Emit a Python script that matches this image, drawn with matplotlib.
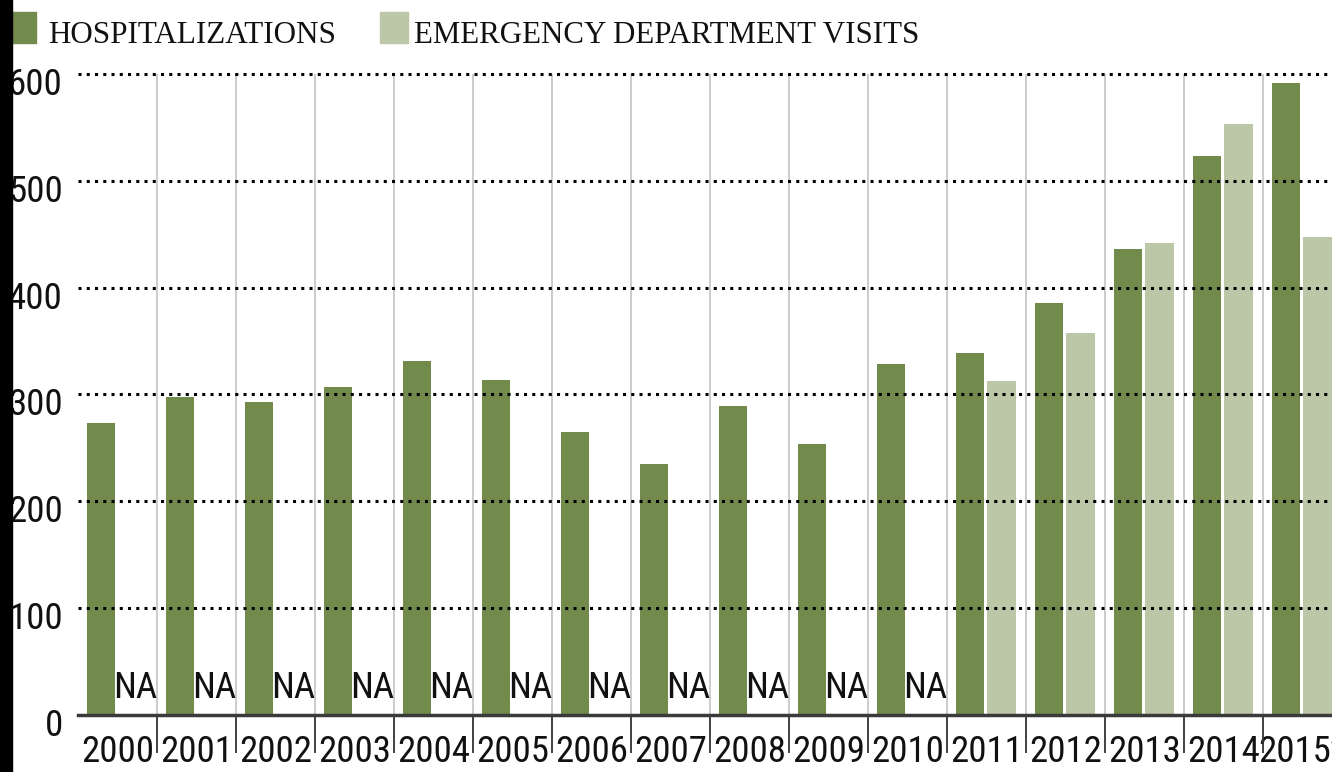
import matplotlib
matplotlib.use('Agg')
import matplotlib.pyplot as plt
from matplotlib import font_manager as fm
from matplotlib.patches import Rectangle
from matplotlib.transforms import ScaledTranslation
import numpy as np

# ---------------- data ----------------
years = ['2000', '2001', '2002', '2003', '2004', '2005', '2006', '2007',
         '2008', '2009', '2010', '2011', '2012', '2013', '2014', '2015*']
hospitalizations = [273, 298, 293, 307, 331, 314, 265, 235,
                    289, 254, 329, 339, 386, 436, 523, 592]
ed_visits = [None, None, None, None, None, None, None, None,
             None, None, None, 313, 358, 442, 553, 447]
y_ticks = [0, 100, 200, 300, 400, 500, 600]
series_names = ['HOSPITALIZATIONS', 'EMERGENCY DEPARTMENT VISITS']

# ---------------- fonts ----------------
available = {f.name for f in fm.fontManager.ttflist}
narrow_pref = ['Liberation Sans Narrow', 'Roboto Condensed', 'Noto Sans Condensed',
               'Open Sans Condensed', 'DejaVu Sans Condensed', 'Noto Sans ExtraCondensed',
               'Noto Sans SemiCondensed', 'Arial Narrow', 'Roboto', 'Inter', 'Lato']
SANS_MAIN = next((n for n in narrow_pref if n in available), 'DejaVu Sans')
SANS = [SANS_MAIN, 'DejaVu Sans']
serif_pref = ['Noto Serif Condensed', 'Noto Serif SemiCondensed',
              'DejaVu Serif Condensed', 'Liberation Serif', 'DejaVu Serif']
SERIF_MAIN = next((n for n in serif_pref if n in available), 'DejaVu Serif')
SERIF = [SERIF_MAIN, 'DejaVu Serif']

# ---------------- style ----------------
C_HOSP = '#728a4b'
C_ED = '#bcc7a8'
TXT = '#111111'

W, H = 1332, 772
fig = plt.figure(figsize=(W / 100, H / 100), dpi=100)
fig.patch.set_facecolor('white')

# fit sans font size so that a year label is about 73 px wide
probe = fig.text(0, 0, '2000', family=SANS, fontsize=20)
fig.canvas.draw()
r = fig.canvas.get_renderer()
pw = probe.get_window_extent(r).width
probe.remove()
FS = min(30, 20 * 73 / pw)

ax_left, ax_bottom_px, ax_top_px = 78, 715, 63.3
ax = fig.add_axes([ax_left / W, (H - ax_bottom_px) / H,
                   (W - ax_left) / W, (ax_bottom_px - ax_top_px) / H])
cat_px = 79.0
ax.set_xlim(-0.5, -0.5 + (W - ax_left) / cat_px)
ax.set_ylim(0, 610)
for s in ax.spines.values():
    s.set_visible(False)

x = np.arange(len(years))
ax.bar(x - 0.209, hospitalizations, width=0.355, color=C_HOSP,
       edgecolor='none', zorder=2)
for i, v in enumerate(ed_visits):
    if v is None:
        ax.text(i + 0.23, 16, 'NA', ha='center', va='baseline',
                fontsize=FS, family=SANS, color=TXT, zorder=3)
    else:
        ax.bar(i + 0.19, v, width=0.37, color=C_ED, edgecolor='none', zorder=2)

# grid lines
for v in y_ticks[1:]:
    ax.axhline(v, color='black', lw=2.2, linestyle=(0, (1, 1.7)), zorder=4)
bounds = np.arange(len(years) - 1) + 0.5
ax.vlines(bounds, 0, 600, color='#c4c4c4', lw=1.2, zorder=1)
ax.axhline(0, color='#3a3a3a', lw=2.5, zorder=5, clip_on=False)

# ticks
ax.set_xticks(x)
ax.set_xticklabels(years, family=SANS, fontsize=FS, color=TXT)
ax.set_xticks(bounds, minor=True)
ax.tick_params(axis='x', which='major', length=0, pad=14)
ax.tick_params(axis='x', which='minor', length=27, width=1.3,
               color='#333333', direction='out')
ax.set_yticks(y_ticks)
ax.set_yticklabels([str(t) for t in y_ticks], family=SANS, fontsize=FS,
                   color=TXT)
ax.tick_params(axis='y', length=0, pad=11)
off = ScaledTranslation(0, -7 / 100, fig.dpi_scale_trans)
for lab in ax.get_yticklabels():
    lab.set_transform(lab.get_transform() + off)

# legend
def px_rect(x0, y0, x1, y1, color):
    fig.patches.append(Rectangle((x0 / W, (H - y1) / H), (x1 - x0) / W,
                                 (y1 - y0) / H, transform=fig.transFigure,
                                 color=color, zorder=5))

px_rect(6, 12, 36, 43, C_HOSP)
px_rect(380, 12, 408, 43, C_ED)
legend_specs = [(48, 287), (414, 504)]
texts = []
for name, (x0, wid) in zip(series_names, legend_specs):
    t = fig.text(x0 / W, (H - 43) / H, name, family=SERIF, fontsize=22,
                 va='baseline', ha='left', color=TXT)
    texts.append((t, wid))
fig.canvas.draw()
r = fig.canvas.get_renderer()
for t, wid in texts:
    cur = t.get_window_extent(r).width
    t.set_fontsize(22 * wid / cur)

# black strip at left edge
fig.patches.append(Rectangle((0, 0), 12 / W, 1, transform=fig.transFigure,
                             color='black', zorder=10))

fig.savefig('out.png', dpi=100)
